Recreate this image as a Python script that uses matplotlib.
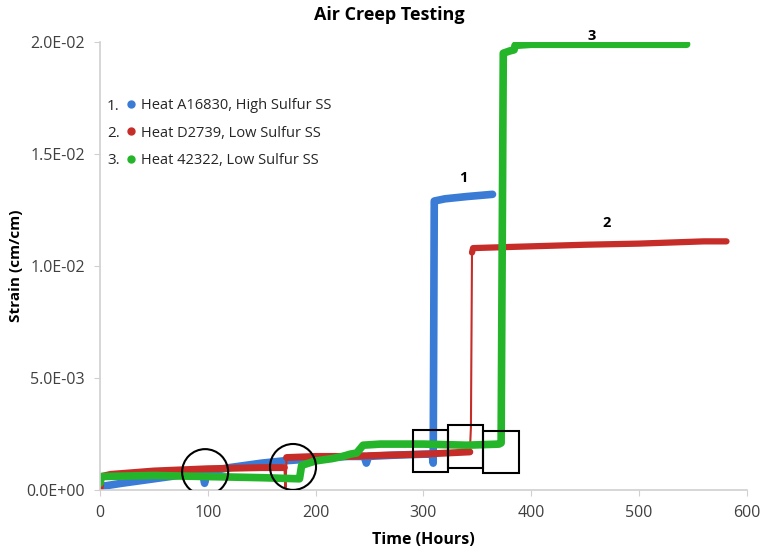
import matplotlib.pyplot as plt
from matplotlib.patches import Ellipse, Rectangle

plt.rcParams['font.family'] = ['Open Sans', 'DejaVu Sans']

# ---- data (time in hours, strain in 1e-3 cm/cm) ----
blue_t = [0, 20, 50, 80, 95, 97, 99, 120, 150, 170, 200, 230, 245, 247, 249, 270, 300, 308, 309, 310, 320, 340, 364]
blue_s = [0.15, 0.3, 0.5, 0.7, 0.8, 0.3, 0.8, 1.0, 1.2, 1.3, 1.4, 1.5, 1.5, 1.2, 1.5, 1.55, 1.6, 1.6, 1.2, 12.9, 13.0, 13.1, 13.2]

red1_t = [0, 1, 10, 50, 100, 150, 171]
red1_s = [0.0, 0.6, 0.7, 0.85, 0.95, 1.0, 1.0]
red_dip_t = [171, 172, 173]
red_dip_s = [1.0, 0.1, 1.45]
red2_t = [173, 200, 230, 260, 300, 343]
red2_s = [1.45, 1.5, 1.5, 1.55, 1.6, 1.7]
red_jump_t = [343, 344, 345]
red_jump_s = [1.7, 2.8, 10.6]
red3_t = [345, 346, 380, 450, 500, 560, 581]
red3_s = [10.6, 10.8, 10.85, 10.95, 11.0, 11.1, 11.1]

green_t = [0, 1, 50, 100, 150, 185, 187, 200, 215, 225, 232, 238, 244, 260, 300, 340, 370, 372, 374, 380, 384, 385, 400, 450, 500, 544]
green_s = [0.3, 0.6, 0.65, 0.6, 0.55, 0.5, 1.1, 1.3, 1.4, 1.5, 1.6, 1.65, 2.0, 2.05, 2.05, 2.0, 2.05, 2.1, 19.5, 19.6, 19.65, 19.85, 19.9, 19.9, 19.9, 19.9]

labels = ['Heat A16830, High Sulfur SS', 'Heat D2739, Low Sulfur SS', 'Heat 42322, Low Sulfur SS']
colors = ['#3a7bd5', '#c62d28', '#25b52a']

# circles: (center t, center strain)
circles = [(97.5, 0.8), (179, 1.03)]
# boxes: (t0, t1, s0, s1)
boxes = [(290.4, 322.8, 0.80, 2.68), (322.8, 355.3, 0.98, 2.90), (355.3, 388.7, 0.76, 2.63)]

sc = 1e-3

fig = plt.figure(figsize=(7.64, 5.52), dpi=100)
ax = fig.add_axes([0.1309, 0.1123, 0.8468, 0.8116])

kw = dict(solid_capstyle='round', solid_joinstyle='round')
ax.plot(blue_t, [v * sc for v in blue_s], color=colors[0], lw=5.5, **kw)
ax.plot(red1_t, [v * sc for v in red1_s], color=colors[1], lw=5, **kw)
ax.plot(red_dip_t, [v * sc for v in red_dip_s], color=colors[1], lw=1.5, **kw)
ax.plot(red2_t, [v * sc for v in red2_s], color=colors[1], lw=5, **kw)
ax.plot(red_jump_t, [v * sc for v in red_jump_s], color=colors[1], lw=1.5, **kw)
ax.plot(red3_t, [v * sc for v in red3_s], color=colors[1], lw=4.5, **kw)
ax.plot(green_t, [v * sc for v in green_s], color=colors[2], lw=5.5, **kw)

for (ct, cs) in circles:
    ax.add_patch(Ellipse((ct, cs * sc), 42.7, 2.05e-3, fill=False, ec='black', lw=1.5, zorder=5))
for (t0, t1, s0, s1) in boxes:
    ax.add_patch(Rectangle((t0, s0 * sc), t1 - t0, (s1 - s0) * sc, fill=False, ec='black', lw=1.5, zorder=5))

ax.text(337, 13.6e-3, '1', fontsize=10.5, fontweight='bold', ha='center', va='bottom')
ax.text(470, 11.6e-3, '2', fontsize=10.5, fontweight='bold', ha='center', va='bottom')
ax.text(456, 19.95e-3, '3', fontsize=10.5, fontweight='bold', ha='center', va='bottom')

# legend
handles = [plt.Line2D([], [], ls='', marker='o', ms=5, color=c) for c in colors]
leg = ax.legend(handles, labels, loc='upper left', bbox_to_anchor=(0.0345, 0.888), frameon=False,
                fontsize=10.5, handlelength=0.4, handletextpad=0.5, labelspacing=0.86, borderaxespad=0)
for txt in leg.get_texts():
    txt.set_color('#262626')
for i, num in enumerate(['1.', '2.', '3.']):
    ax.text(0.011, 0.857 - i * 0.0605, num, transform=ax.transAxes, fontsize=11, color='#262626', va='center')

ax.set_xlim(0, 600)
ax.set_ylim(0, 0.02)
ax.set_xticks([0, 100, 200, 300, 400, 500, 600])
ax.set_yticks([0, 0.005, 0.01, 0.015, 0.02])
ax.set_yticklabels(['0.0E+00', '5.0E-03', '1.0E-02', '1.5E-02', '2.0E-02'])
ax.tick_params(labelsize=11.5, colors='#404040', length=4, color='#d0d0d0')
ax.tick_params(axis='y', pad=7)
ax.tick_params(axis='x', pad=7)
for side in ['top', 'right']:
    ax.spines[side].set_visible(False)
for side in ['left', 'bottom']:
    ax.spines[side].set_color('#d0d0d0')
    ax.spines[side].set_linewidth(1.2)

ax.set_xlabel('Time (Hours)', fontsize=11.5, fontweight='bold')
ax.set_ylabel('Strain (cm/cm)', fontsize=11, fontweight='bold')
ax.xaxis.set_label_coords(0.5, -0.094)
ax.yaxis.set_label_coords(-0.119, 0.5)
fig.text(0.509, 0.973, 'Air Creep Testing', fontsize=13, fontweight='bold', ha='center', va='center')

fig.savefig('out.png', dpi=100)
